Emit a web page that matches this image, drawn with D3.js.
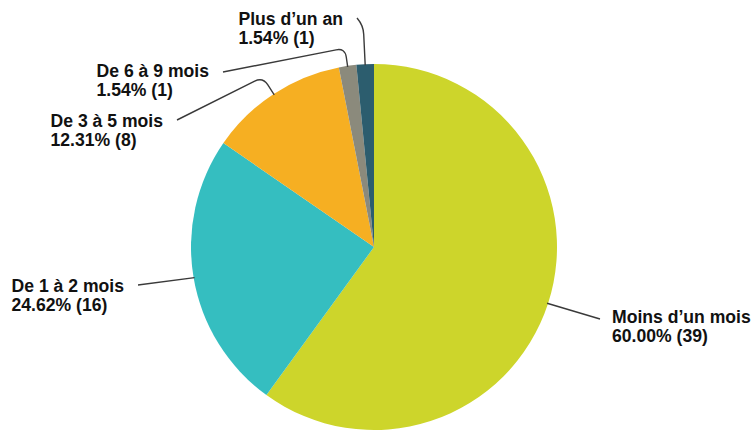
<!DOCTYPE html>
<html>
<head>
<meta charset="utf-8">
<script src="https://cdn.jsdelivr.net/npm/d3@7"></script>
<style>
  html, body { margin: 0; padding: 0; background: #ffffff; }
  svg { display: block; }
</style>
</head>
<body>
<svg id="chart" width="753" height="433"></svg>
<script>
// Durée — répartition des réponses
const categories = ["Moins d’un mois", "De 1 à 2 mois", "De 3 à 5 mois", "De 6 à 9 mois", "Plus d’un an"];
const counts = [39, 16, 8, 1, 1];
const colors = ["#cdd52b", "#35bec0", "#f6af22", "#8b8a7c", "#2c5d6e"];

// Label placement: where each leader line ends, bend radius, and side of the text
const labelLayout = [
  { end: [600, 319], bend: null, side: "right", base: 323 },
  { end: [138, 285], bend: null, side: "left",  base: 292 },
  { end: [177, 120], bend: 203,  side: "left",  base: 127 },
  { end: [223, 72],  bend: 201,  side: "left",  base: 77 },
  { end: [357, 18],  bend: 222,  side: "left",  base: 25 }
];

const W = 753, H = 433;
const cx = 374, cy = 247, R = 183;
const total = d3.sum(counts);
const data = categories.map((c, i) => ({ label: c, value: counts[i], color: colors[i], layout: labelLayout[i] }));

const svg = d3.select("#chart");
const g = svg.append("g").attr("transform", `translate(${cx},${cy})`);

const pie = d3.pie().value(d => d.value).sort(null).startAngle(0).endAngle(2 * Math.PI);
const arcs = pie(data);
const arc = d3.arc().innerRadius(0).outerRadius(R);

g.selectAll("path.slice")
  .data(arcs)
  .join("path")
  .attr("class", "slice")
  .attr("d", arc)
  .attr("fill", d => d.data.color);

// Point on a circle of radius r at angle a (d3 convention: 0 = 12 o'clock, clockwise)
const polar = (a, r) => [cx + r * Math.sin(a), cy - r * Math.cos(a)];

function leaderPath(d) {
  const mid = (d.startAngle + d.endAngle) / 2;
  const p0 = polar(mid, R - 1);
  const end = d.data.layout.end;
  if (d.data.layout.bend == null) {
    return `M${p0[0]},${p0[1]}L${end[0]},${end[1]}`;
  }
  const pb = polar(mid, d.data.layout.bend);
  // rounded corner at the bend
  const rr = 9;
  const v1 = [p0[0] - pb[0], p0[1] - pb[1]];
  const l1 = Math.hypot(v1[0], v1[1]);
  const v2 = [end[0] - pb[0], end[1] - pb[1]];
  const l2 = Math.hypot(v2[0], v2[1]);
  const a = [pb[0] + v1[0] / l1 * rr, pb[1] + v1[1] / l1 * rr];
  const b = [pb[0] + v2[0] / l2 * rr, pb[1] + v2[1] / l2 * rr];
  return `M${p0[0]},${p0[1]}L${a[0]},${a[1]}Q${pb[0]},${pb[1]} ${b[0]},${b[1]}L${end[0]},${end[1]}`;
}

svg.selectAll("path.leader")
  .data(arcs)
  .join("path")
  .attr("class", "leader")
  .attr("d", leaderPath)
  .attr("fill", "none")
  .attr("stroke", "#3a3a3a")
  .attr("stroke-width", 1.4);

const fmtPct = v => (v / total * 100).toFixed(2) + "%";

const labels = svg.selectAll("text.lbl")
  .data(arcs)
  .join("text")
  .attr("class", "lbl")
  .attr("font-family", "'Liberation Sans', Arial, sans-serif")
  .attr("font-weight", "bold")
  .attr("font-size", 17.6)
  .attr("fill", "#111111");

labels.append("tspan").attr("class", "l1").text(d => d.data.label);
labels.append("tspan").attr("class", "l2").text(d => `${fmtPct(d.data.value)} (${d.data.value})`);

labels.each(function(d) {
  const t = d3.select(this);
  const lay = d.data.layout;
  const w1 = t.select(".l1").node().getComputedTextLength();
  const x = lay.side === "right" ? lay.end[0] + 12 : lay.end[0] - 14 - w1;
  t.select(".l1").attr("x", x).attr("y", lay.base);
  t.select(".l2").attr("x", x).attr("y", lay.base + 19);
});
</script>
</body>
</html>
